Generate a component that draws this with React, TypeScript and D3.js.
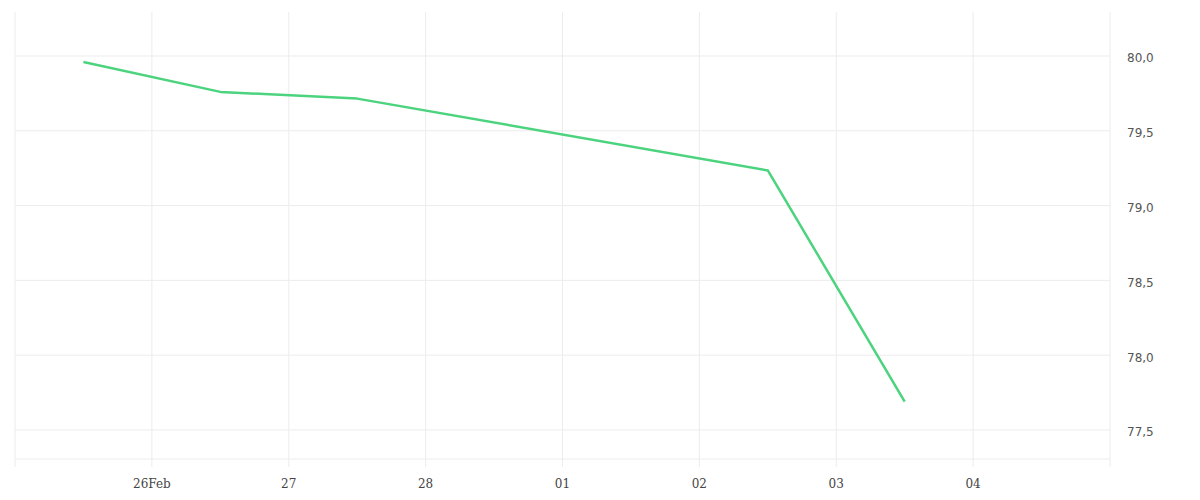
import React from "react";
import * as d3 from "d3";

// readings at noon, weekend (28 Feb / 01 Mar) has no points
const dates = ["2026-02-25T12:00", "2026-02-26T12:00", "2026-02-27T12:00", "2026-03-02T12:00", "2026-03-03T12:00"];
const values = [79.96, 79.76, 79.715, 79.235, 77.69];

const xTicks = ["2026-02-26", "2026-02-27", "2026-02-28", "2026-03-01", "2026-03-02", "2026-03-03", "2026-03-04"];
const xTickLabels = ["26Feb", "27", "28", "01", "02", "03", "04"];
const yTicks = [77.5, 78.0, 78.5, 79.0, 79.5, 80.0];
const xDomain = ["2026-02-25", "2026-03-05"];
const yDomain = [77.306, 80.294];

const W = 1200;
const H = 500;
const plot = { left: 15, right: 1110, top: 12, bottom: 459 };
const grid = "#ececec";

const App: React.FC = () => {
  const x = d3
    .scaleTime()
    .domain(xDomain.map((d) => new Date(d + "T00:00")))
    .range([plot.left, plot.right]);
  const y = d3.scaleLinear().domain(yDomain).range([plot.bottom, plot.top]);

  const points = dates.map((d, i) => ({ date: new Date(d), value: values[i] }));
  const line = d3
    .line<{ date: Date; value: number }>()
    .x((d) => x(d.date))
    .y((d) => y(d.value));

  const fmt = (v: number) => v.toFixed(1).replace(".", ",");
  const vLines = [xDomain[0], ...xTicks, xDomain[1]].map((d) => x(new Date(d + "T00:00")));

  return (
    <div style={{ position: "absolute", left: 0, top: 0 }}>
      <svg width={W} height={H} style={{ display: "block", background: "#fff" }}>
        {/* vertical grid */}
        {vLines.map((vx, i) => (
          <line key={"v" + i} x1={vx} x2={vx} y1={plot.top} y2={plot.bottom + 8} stroke={grid} strokeWidth={1} />
        ))}
        {/* horizontal grid */}
        {yTicks.map((t) => (
          <line key={"h" + t} x1={plot.left} x2={plot.right} y1={y(t)} y2={y(t)} stroke={grid} strokeWidth={1} />
        ))}
        <line x1={plot.left} x2={plot.right} y1={plot.bottom} y2={plot.bottom} stroke={grid} strokeWidth={1} />

        {/* y labels */}
        {yTicks.map((t) => (
          <text
            key={"yl" + t}
            x={plot.right + 17}
            y={y(t) + 3}
            dominantBaseline="middle"
            fontFamily="DejaVu Sans, sans-serif"
            fontSize={12}
            fill="#555"
          >
            {fmt(t)}
          </text>
        ))}

        {/* x labels */}
        {xTicks.map((d, i) => (
          <text
            key={"xl" + d}
            x={x(new Date(d + "T00:00"))}
            y={488}
            textAnchor="middle"
            fontFamily="DejaVu Serif, serif"
            fontSize={12}
            fill="#444"
          >
            {xTickLabels[i]}
          </text>
        ))}

        <path d={line(points) || ""} fill="none" stroke="#4cd37e" strokeWidth={2.5} strokeLinejoin="round" />
      </svg>
    </div>
  );
};

export default App;
